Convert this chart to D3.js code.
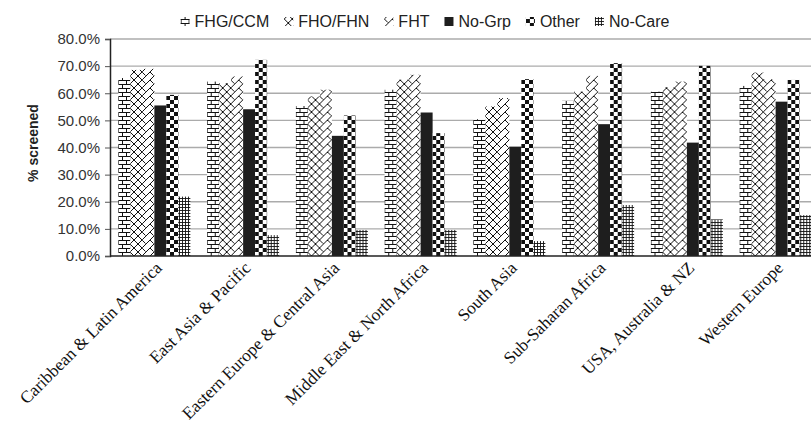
<!DOCTYPE html>
<html>
<head>
<meta charset="utf-8">
<script src="https://cdn.jsdelivr.net/npm/d3@7"></script>
<style>
  body { margin: 0; background: #fff; }
  svg { display: block; }
</style>
</head>
<body>
<div id="chart"></div>
<script>
// Data (% screened)
const categories = ['Caribbean & Latin America', 'East Asia & Pacific', 'Eastern Europe & Central Asia',
  'Middle East & North Africa', 'South Asia', 'Sub-Saharan Africa', 'USA, Australia & NZ', 'Western Europe']
const seriesNames = ['FHG/CCM', 'FHO/FHN', 'FHT', 'No-Grp', 'Other', 'No-Care']
const fhgCcm = [65.6, 64.3, 55.3, 61.3, 50.4, 57.2, 60.6, 62.7]
const fhoFhn = [68.6, 63.7, 58.8, 65.0, 55.1, 60.6, 62.2, 67.6]
const fht = [69.0, 66.2, 61.3, 66.8, 58.2, 66.4, 64.3, 65.2]
const noGrp = [55.5, 54.1, 44.3, 52.9, 40.3, 48.6, 41.8, 56.9]
const other = [59.4, 72.3, 51.8, 45.3, 65.2, 71.1, 70.1, 64.9]
const noCare = [21.9, 7.7, 9.6, 9.6, 5.5, 18.8, 13.5, 15.1]
const yTicks = [0, 10, 20, 30, 40, 50, 60, 70, 80]

const seriesValues = [fhgCcm, fhoFhn, fht, noGrp, other, noCare]
const fills = ['url(#p-brick)', 'url(#p-cross)', 'url(#p-zig)', '#1e1e1e', 'url(#p-check)', 'url(#p-grid)']

const W = 811, H = 423
const plot = { left: 110, right: 820, top: 39, bottom: 256 }

const svg = d3.select('#chart').append('svg')
  .attr('width', W)
  .attr('height', H)

// Fill patterns
const defs = svg.append('defs')

function addPattern(id, size, draw) {
  const p = defs.append('pattern')
    .attr('id', id)
    .attr('patternUnits', 'userSpaceOnUse')
    .attr('width', size)
    .attr('height', size)
  p.append('rect').attr('width', size).attr('height', size).attr('fill', '#fff')
  draw(p)
}

addPattern('p-brick', 8, p => {
  p.append('path')
    .attr('d', 'M0,0.5H8M0,4.5H8M0.5,0.5V4.5M4.5,4.5V8.5')
    .attr('stroke', '#111').attr('stroke-width', 1).attr('fill', 'none')
})
addPattern('p-cross', 8, p => {
  p.append('path')
    .attr('d', 'M0,0L8,8M8,0L0,8')
    .attr('stroke', '#111').attr('stroke-width', 1).attr('fill', 'none')
})
addPattern('p-zig', 8, p => {
  p.append('path')
    .attr('d', 'M0,8L8,0M0,0L3.5,3.5')
    .attr('stroke', '#111').attr('stroke-width', 1).attr('fill', 'none')
})
addPattern('p-check', 8, p => {
  p.append('rect').attr('x', 0).attr('y', 0).attr('width', 4).attr('height', 4).attr('fill', '#111')
  p.append('rect').attr('x', 4).attr('y', 4).attr('width', 4).attr('height', 4).attr('fill', '#111')
})
addPattern('p-grid', 3, p => {
  p.append('path')
    .attr('d', 'M0,0.5H3M0.5,0V3')
    .attr('stroke', '#111').attr('stroke-width', 0.9).attr('fill', 'none')
})

// Scales
const x0 = d3.scaleBand()
  .domain(categories)
  .range([plot.left, plot.right])
  .paddingInner(0)
  .paddingOuter(0)

const x1 = d3.scaleBand()
  .domain(seriesNames)
  .range([0, x0.bandwidth()])
  .paddingInner(0)
  .paddingOuter(0.7)

const y = d3.scaleLinear()
  .domain([0, 80])
  .range([plot.bottom, plot.top])

// Gridlines
svg.append('g')
  .selectAll('line')
  .data(yTicks.filter(d => d > 0))
  .join('line')
  .attr('x1', plot.left)
  .attr('x2', plot.right)
  .attr('y1', d => y(d))
  .attr('y2', d => y(d))
  .attr('stroke', '#ababab')
  .attr('stroke-width', 1.4)

// Bars
const groups = svg.append('g')
  .selectAll('g')
  .data(categories)
  .join('g')
  .attr('transform', d => `translate(${x0(d)},0)`)

groups.selectAll('rect')
  .data((c, i) => seriesNames.map((s, k) => ({ series: s, k, value: seriesValues[k][i] })))
  .join('rect')
  .attr('x', d => x1(d.series))
  .attr('y', d => y(d.value))
  .attr('width', x1.bandwidth())
  .attr('height', d => y(0) - y(d.value))
  .attr('fill', d => fills[d.k])

// Y axis
const yAxis = svg.append('g')
  .attr('transform', `translate(${plot.left},0)`)
  .call(d3.axisLeft(y).tickValues(yTicks).tickFormat(d => d.toFixed(1) + '%').tickSize(5).tickPadding(5))

yAxis.select('.domain').attr('stroke', '#222').attr('stroke-width', 1.5)
yAxis.selectAll('.tick line').attr('stroke', '#555')
yAxis.selectAll('.tick text')
  .attr('font-family', 'Liberation Sans, Arial, sans-serif')
  .attr('font-size', 15)
  .attr('fill', '#333')

// X axis baseline
svg.append('line')
  .attr('x1', plot.left)
  .attr('x2', plot.right)
  .attr('y1', plot.bottom)
  .attr('y2', plot.bottom)
  .attr('stroke', '#222')
  .attr('stroke-width', 1.5)

// Category labels, rotated
svg.append('g')
  .selectAll('text')
  .data(categories)
  .join('text')
  .attr('transform', d => `translate(${x0(d) + x0.bandwidth() / 2 + 8.5},${plot.bottom + 13}) rotate(-45)`)
  .attr('text-anchor', 'end')
  .attr('font-family', 'Liberation Serif, Times New Roman, serif')
  .attr('font-size', 17.3)
  .attr('fill', '#111')
  .text(d => d)

// Y title
svg.append('text')
  .attr('transform', `translate(38,143) rotate(-90)`)
  .attr('text-anchor', 'middle')
  .attr('font-family', 'Liberation Sans, Arial, sans-serif')
  .attr('font-weight', 'bold')
  .attr('font-size', 14)
  .attr('fill', '#222')
  .text('% screened')

// Legend
const legend = svg.append('g').attr('transform', 'translate(0,27)')
const legendItems = legend.selectAll('g')
  .data(seriesNames)
  .join('g')

legendItems.append('rect')
  .attr('y', -10)
  .attr('width', 9)
  .attr('height', 9)
  .attr('fill', (d, i) => fills[i])

legendItems.append('text')
  .attr('x', 14)
  .attr('font-family', 'Liberation Sans, Arial, sans-serif')
  .attr('font-size', 16)
  .attr('fill', '#222')
  .text(d => d)

let cursor = 0
const offsets = []
legendItems.each(function () {
  offsets.push(cursor)
  const tw = d3.select(this).select('text').node().getComputedTextLength()
  cursor += 14 + tw + 15
})
const total = cursor - 15
const start = 425 - total / 2
legendItems.attr('transform', (d, i) => `translate(${start + offsets[i]},0)`)
</script>
</body>
</html>
